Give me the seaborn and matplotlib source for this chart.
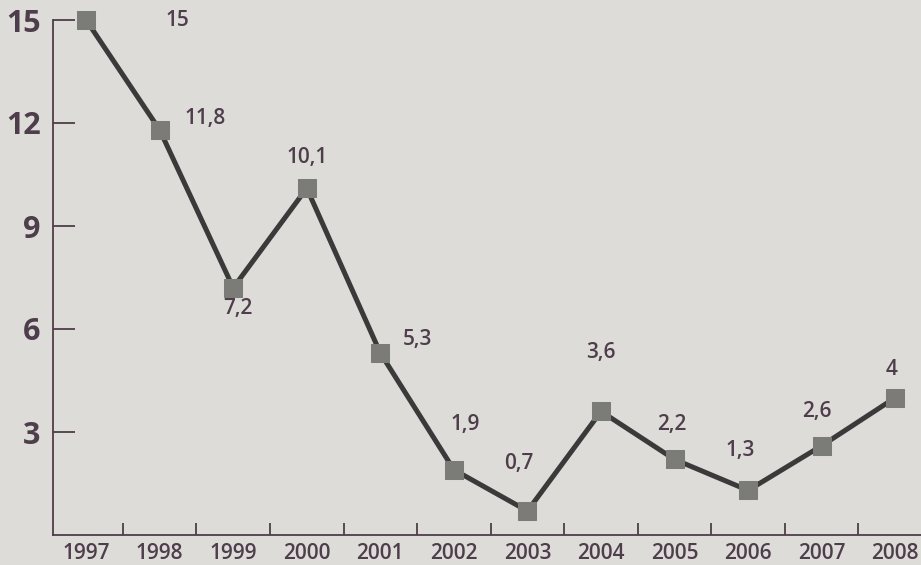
import numpy as np
import pandas as pd
import matplotlib.pyplot as plt
import seaborn as sns

#---------------------------------------------------------
years=[1997, 1998, 1999, 2000, 2001, 2002, 2003, 2004, 2005, 2006, 2007, 2008]
values=[15, 11.8, 7.2, 10.1, 5.3, 1.9, 0.7, 3.6, 2.2, 1.3, 2.6, 4]
yticks=[3, 6, 9, 12, 15]
# label offsets (pixels) relative to each point
lbl_off=[(91, 0), (45, 11), (5, -21), (0, 31), (37, 14), (11, 45), (-9, 47),
         (0, 59), (-3, 35), (-8, 40), (-5, 34), (-4, 28)]

bg='#dddcd8'
txt='#4e3d4b'
cline='#3b3a3a'
cmark='#7b7b78'

#---------------------------------------------------------
df=pd.DataFrame({'year': years, 'val': values})

sns.set_style('ticks')
plt.rcParams['font.family']=['Open Sans', 'DejaVu Sans']

fig=plt.figure(figsize=(9.21, 5.65), dpi=100, facecolor=bg)
ax=fig.add_axes([53/921, 30/565, 868/921, 515/565])
ax.set_facecolor(bg)

sns.lineplot(x='year', y='val', data=df, ax=ax, color=cline, linewidth=3.6,
             marker='s', markersize=13, markerfacecolor=cmark, markeredgecolor=cmark,
             zorder=3, clip_on=False)

for x, y, (dx, dy) in zip(years, values, lbl_off):
	s=f'{y:g}'.replace('.', ',')
	ax.annotate(s, (x, y), xytext=(dx, dy), textcoords='offset pixels',
	            ha='center', va='center', fontsize=15, weight='semibold', color=txt)

#adjust
ax.set_xlim(1996.55, 2008.35)
ax.set_ylim(0, 15)
ax.set_xlabel('')
ax.set_ylabel('')
for side in ['top', 'right']:
	ax.spines[side].set_visible(False)
for side in ['left', 'bottom']:
	ax.spines[side].set_color(txt)
	ax.spines[side].set_linewidth(1.3)

ax.set_yticks(yticks)
ax.set_yticklabels([str(v) for v in yticks], fontsize=22, weight='bold', color=txt)
ax.tick_params(axis='y', direction='in', length=16, width=1.3, color=txt, pad=9)

ax.set_xticks(years)
ax.set_xticklabels([str(v) for v in years], fontsize=15, weight='semibold', color=txt)
ax.set_xticks(np.array(years[:-1])+0.5, minor=True)
ax.tick_params(axis='x', which='major', length=0, pad=6)
ax.tick_params(axis='x', which='minor', direction='in', length=8.5, width=1.3, color=txt)

plt.savefig('out.png', dpi=100, facecolor=bg)
plt.close()
